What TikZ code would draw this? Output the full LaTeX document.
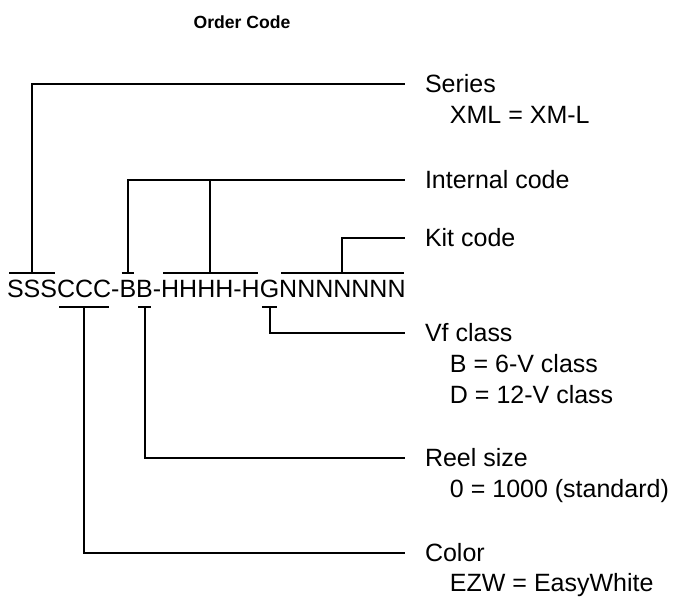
\documentclass[tikz,border=0pt]{standalone}
\usepackage{fontspec}
\setsansfont{Liberation Sans}
\usetikzlibrary{positioning,calc}

\begin{document}
\begin{tikzpicture}[font=\sffamily\fontsize{12.5}{15}\selectfont, x=0.5pt, y=-0.5pt, line width=1pt]
    \tikzstyle{part}=[inner sep=0pt, outer sep=0pt, anchor=base west]
    \tikzstyle{desc}=[anchor=west, inner xsep=10pt, inner ysep=0pt, outer sep=0pt]
    \tikzstyle{note}=[anchor=base west, inner sep=0pt, outer sep=0pt]
    \useasboundingbox (0,0) rectangle (682,598);

    \node[font=\sffamily\bfseries\fontsize{8.8}{10}\selectfont] (title) at (242,22) {Order Code};

    % the code, piece by piece
    \node[part] (s) at (7,298) {SSS};
    \node[part] (c) at (s.base east) {CCC};
    \node[part] (d1) at (c.base east) {-};
    \node[part] (b1) at (d1.base east) {B};
    \node[part] (b2) at (b1.base east) {B};
    \node[part] (d2) at (b2.base east) {-};
    \node[part] (h) at (d2.base east) {HHHH-H};
    \node[part] (g) at (h.base east) {G};
    \node[part] (n) at (g.base east) {NNNNNNN};

    % bars over and under the pieces
    \foreach \p in {s,b1,h,n} {
        \draw[shorten <=1pt, shorten >=1pt] ($(\p.base west)+(0,-25)$) -- ($(\p.base east)+(0,-25)$);
        \coordinate (\p-top) at ($(\p.base)+(0,-25)$);
    }
    \foreach \p in {c,b2,g} {
        \draw[shorten <=1pt, shorten >=1pt] ($(\p.base west)+(0,9)$) -- ($(\p.base east)+(0,9)$);
        \coordinate (\p-bot) at ($(\p.base)+(0,9)$);
    }

    % descriptions
    \node[desc] (series) at (405,84) {Series};
    \node[note] (seriesval) at ($(series.base west)+(45,31)$) {XML = XM-L};
    \node[desc] (internal) at (405,180) {Internal code};
    \node[desc] (kit) at (405,238) {Kit code};
    \node[desc] (vf) at (405,333) {Vf class};
    \node[note] (vfb) at ($(vf.base west)+(45,31)$) {B = 6-V class};
    \node[note] (vfd) at ($(vfb.base west)+(0,31)$) {D = 12-V class};
    \node[desc] (reel) at (405,458) {Reel size};
    \node[note] (reelval) at ($(reel.base west)+(45,31)$) {0 = 1000 (standard)};
    \node[desc] (color) at (405,553) {Color};
    \node[note] (colorval) at ($(color.base west)+(45,30)$) {EZW = EasyWhite};

    % leaders
    \draw (s-top) |- (series.west);
    \draw (b1-top) |- (internal.west);
    \draw (h-top) -- (h-top |- internal.west);
    \draw (n-top) |- (kit.west);
    \draw (g-bot) |- (vf.west);
    \draw (b2-bot) |- (reel.west);
    \draw (c-bot) |- (color.west);
\end{tikzpicture}
\end{document}
